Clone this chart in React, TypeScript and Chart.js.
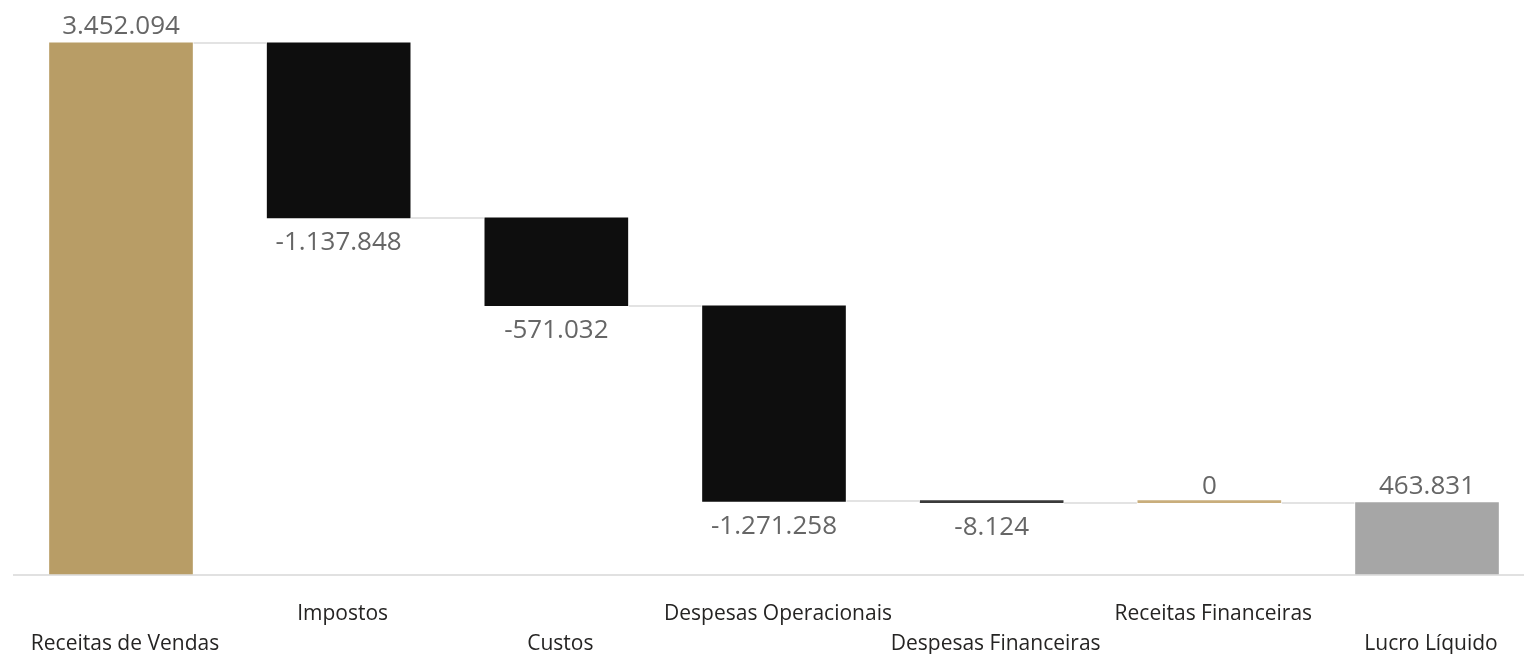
import React, { useEffect, useRef } from "react";
import { Chart, registerables } from "chart.js";

Chart.register(...registerables);

const categories = [
  "Receitas de Vendas",
  "Impostos",
  "Custos",
  "Despesas Operacionais",
  "Despesas Financeiras",
  "Receitas Financeiras",
  "Lucro Líquido",
];
const values = [3452094, -1137848, -571032, -1271258, -8124, 0, 463831];
const kinds = ["total", "delta", "delta", "delta", "delta", "delta", "total"];
const barColors = ["#B89D66", "#0E0E0E", "#0E0E0E", "#0E0E0E", "#3A3A3A", "#C9AE7C", "#A6A6A6"];

function fmt(v: number): string {
  const s = Math.abs(v).toString().replace(/\B(?=(\d{3})+(?!\d))/g, ".");
  return (v < 0 ? "-" : "") + s;
}

function buildRanges(): [number, number][] {
  const out: [number, number][] = [];
  let run = 0;
  values.forEach((v, i) => {
    if (kinds[i] === "total") {
      out.push([0, v]);
      run = v;
    } else {
      out.push([run, run + v]);
      run = run + v;
    }
  });
  return out;
}

const FONT = "'Open Sans', 'Noto Sans', sans-serif";

export default function App() {
  const ref = useRef<HTMLCanvasElement | null>(null);
  useEffect(() => {
    if (!ref.current) return;
    const ranges = buildRanges();

    const waterfallDecor = {
      id: "waterfallDecor",
      beforeDatasetsDraw(chart: any) {
        const { ctx } = chart;
        const y = chart.scales.y;
        const meta = chart.getDatasetMeta(0);
        ctx.save();
        ctx.strokeStyle = "#E1E1E1";
        ctx.lineWidth = 2;
        ctx.beginPath();
        const by = y.getPixelForValue(0) + 1;
        ctx.moveTo(13, by);
        ctx.lineTo(chart.width, by);
        ctx.stroke();
        ctx.strokeStyle = "#E3E3E3";
        ctx.lineWidth = 2;
        for (let i = 0; i < ranges.length - 1; i++) {
          const level = ranges[i][1];
          const a = meta.data[i] as any;
          const b = meta.data[i + 1] as any;
          const py = Math.round(y.getPixelForValue(level));
          ctx.beginPath();
          ctx.moveTo(a.x + a.width / 2 + 1, py);
          ctx.lineTo(b.x - b.width / 2 - 1, py);
          ctx.stroke();
        }
        ctx.restore();
      },
      afterDatasetsDraw(chart: any) {
        const { ctx } = chart;
        const y = chart.scales.y;
        const meta = chart.getDatasetMeta(0);
        ctx.save();
        ctx.font = `26px ${FONT}`;
        ctx.fillStyle = "#666666";
        ctx.textAlign = "center";
        ctx.textBaseline = "middle";
        values.forEach((v, i) => {
          const el = meta.data[i] as any;
          const [s, e] = ranges[i];
          if (v < 0) {
            const py = y.getPixelForValue(Math.min(s, e));
            ctx.fillText(fmt(v), el.x, py + 25);
          } else {
            const py = y.getPixelForValue(Math.max(s, e));
            ctx.fillText(fmt(v), el.x, py - 16);
          }
        });
        ctx.restore();
      },
    };

    const chart = new Chart(ref.current, {
      type: "bar",
      data: {
        labels: categories,
        datasets: [
          {
            data: ranges as any,
            backgroundColor: barColors,
            borderWidth: 0,
            barThickness: 143,
            minBarLength: 2,
            clip: false as any,
          },
        ],
      },
      options: {
        responsive: true,
        maintainAspectRatio: false,
        animation: false,
        layout: { padding: { left: 121, right: 97, top: 0, bottom: 0 } },
        plugins: {
          legend: { display: false },
          tooltip: { enabled: false },
        },
        scales: {
          x: {
            type: "category",
            offset: false,
            grid: { display: false, drawTicks: false },
            border: { display: false },
            ticks: {
              autoSkip: false,
              maxRotation: 0,
              minRotation: 0,
              padding: 25,
              labelOffset: 4,
              color: "#252423",
              font: { family: FONT, size: 21, lineHeight: "30px" as any },
              callback: (_v: any, i: number) =>
                i % 2 === 0 ? ["", categories[i]] : [categories[i], ""],
            },
          },
          y: {
            display: false,
            min: 0,
            max: 3730000,
          },
        },
      },
      plugins: [waterfallDecor],
    });
    return () => chart.destroy();
  }, []);

  return (
    <div style={{ position: "fixed", left: 0, top: 0, width: 1524, height: 654, overflow: "hidden", background: "#fff" }}>
      <div style={{ position: "relative", width: 1524, height: 684 }}>
        <canvas ref={ref} />
      </div>
    </div>
  );
}
